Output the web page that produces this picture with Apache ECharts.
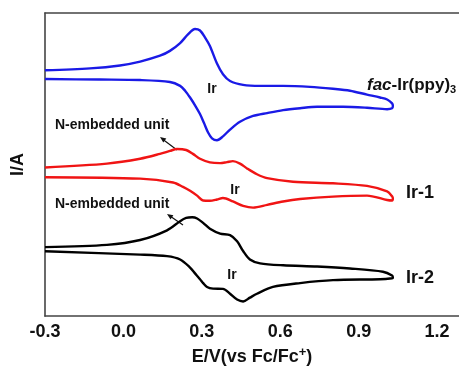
<!DOCTYPE html>
<html>
<head>
<meta charset="utf-8">
<script src="https://cdn.jsdelivr.net/npm/echarts@6/dist/echarts.min.js"></script>
<style>
html,body{margin:0;padding:0;background:#fff;}
#c{width:459px;height:371px;}
</style>
</head>
<body>
<div id="c"></div>
<script>
// x tick labels (V vs Fc/Fc+)
const xTicks = [-0.3, 0.0, 0.3, 0.6, 0.9, 1.2];

// fac-Ir(ppy)3 (blue): forward scan then reverse scan
const E_blue = [-0.300,-0.128,-0.013,0.064,0.140,0.178,0.217,0.247,0.274,0.293,0.312,0.331,0.358,0.381,0.408,0.458,0.523,0.611,0.714,0.802,0.867,0.932,0.982,1.009,1.028,
  1.031,
  1.028,1.009,0.932,0.840,0.741,0.676,0.611,0.550,0.496,0.446,0.408,0.381,0.358,0.339,0.324,0.308,0.293,0.274,0.255,0.236,0.217,0.178,0.064,-0.090,-0.300];
const I_blue = [25.3,25.5,25.8,26.2,26.8,27.3,28.1,29.0,29.55,29.4,28.7,27.8,26.0,24.9,24.2,23.8,23.7,23.7,23.6,23.4,23.2,22.8,22.5,22.3,21.9,
  21.65,
  21.4,21.3,21.45,21.55,21.55,21.4,21.2,20.9,20.6,20.0,19.2,18.5,18.1,18.3,18.9,19.9,20.8,21.7,22.5,23.2,23.7,24.1,24.3,24.35,24.4];

// Ir-1 (red)
const E_red = [-0.300,-0.063,0.064,0.140,0.178,0.205,0.240,0.266,0.293,0.331,0.370,0.396,0.419,0.446,0.473,0.511,0.550,0.649,0.802,0.932,1.009,1.028,
  1.031,
  1.028,1.009,0.932,0.802,0.676,0.611,0.550,0.496,0.458,0.419,0.381,0.358,0.331,0.305,0.282,0.255,0.228,0.190,0.064,-0.300];
const I_red = [15.3,15.7,16.2,16.7,17.0,17.2,17.1,16.7,16.2,15.83,15.75,15.85,15.95,15.7,15.2,14.6,14.2,13.83,13.67,13.4,12.83,12.33,
  12.1,
  11.9,11.95,12.4,12.3,12.05,11.8,11.45,11.17,11.35,11.8,12.15,12.0,11.87,11.9,12.4,12.9,13.3,13.75,14.15,14.3];

// Ir-2 (black)
const E_black = [-0.300,-0.063,0.064,0.167,0.217,0.240,0.263,0.282,0.305,0.331,0.370,0.408,0.435,0.458,0.484,0.523,0.611,0.741,0.867,0.993,1.028,
  1.031,
  1.028,0.982,0.802,0.676,0.572,0.511,0.484,0.458,0.435,0.408,0.381,0.343,0.320,0.305,0.293,0.274,0.255,0.217,0.167,0.064,-0.300];
const I_black = [7.1,7.33,7.83,8.83,9.77,10.1,10.17,10.05,9.6,9.0,8.5,8.33,7.7,6.7,5.83,5.43,5.23,5.1,4.9,4.57,4.17,
  3.95,
  3.9,3.8,3.7,3.4,3.0,2.3,1.9,1.5,1.7,2.3,2.8,2.83,3.0,3.4,3.8,4.4,5.0,5.83,6.17,6.33,6.67];

const zip = (a, b) => a.map((v, i) => [v, b[i]]);
const FF = '"Liberation Sans", Arial, sans-serif';
const chart = echarts.init(document.getElementById('c'));

const xMin = -0.3, xMax = 1.284;
function curve(name, e, i, color) {
  return {
    name, type: 'line', data: zip(e, i), smooth: 0.3, showSymbol: false,
    lineStyle: { color, width: 2.4 }, clip: false, animation: false
  };
}

chart.setOption({
  animation: false,
  grid: { left: 45, right: 0, top: 13, bottom: 47 },
  xAxis: [{
    type: 'value', min: xMin, max: xMax, interval: 0.3,
    axisLine: { show: true, onZero: false, lineStyle: { color: '#444', width: 1.6 } },
    axisTick: { show: false }, splitLine: { show: false },
    axisLabel: {
      showMaxLabel: false, margin: 7, color: '#111', fontFamily: FF, fontWeight: 'bold', fontSize: 18,
      formatter: v => (xTicks.some(t => Math.abs(t - v) < 1e-6) ? v.toFixed(1) : '')
    },
    name: '{a|E/V(vs Fc/Fc}{s|+}{a|)}', nameLocation: 'middle', nameGap: 28,
    nameTextStyle: {
      rich: {
        a: { fontFamily: FF, fontWeight: 'bold', fontSize: 18, color: '#111', lineHeight: 22 },
        s: { fontFamily: FF, fontWeight: 'bold', fontSize: 13, color: '#111', lineHeight: 8, verticalAlign: 'top' }
      }
    }
  }, {
    type: 'value', position: 'top', min: xMin, max: xMax,
    axisLine: { show: true, onZero: false, lineStyle: { color: '#444', width: 1.6 } },
    axisTick: { show: false }, axisLabel: { show: false }, splitLine: { show: false }
  }],
  yAxis: {
    type: 'value', min: 0, max: 31.2, position: 'left',
    axisLine: { show: true, onZero: false, lineStyle: { color: '#444', width: 1.6 } },
    axisTick: { show: false }, axisLabel: { show: false }, splitLine: { show: false },
    name: 'I/A', nameLocation: 'middle', nameGap: 18,
    nameTextStyle: { fontFamily: FF, fontWeight: 'bold', fontSize: 18, color: '#111' }
  },
  series: [
    curve('fac-Ir(ppy)3', E_blue, I_blue, '#1a1ae6'),
    curve('Ir-1', E_red, I_red, '#f01414'),
    curve('Ir-2', E_black, I_black, '#000000')
  ],
  graphic: [
    { type: 'text', x: 55, y: 125, style: { text: 'N-embedded unit', font: 'bold 14px ' + FF, fill: '#111', align: 'left', verticalAlign: 'middle' } },
    { type: 'text', x: 55, y: 204, style: { text: 'N-embedded unit', font: 'bold 14px ' + FF, fill: '#111', align: 'left', verticalAlign: 'middle' } },
    { type: 'text', x: 212, y: 89, style: { text: 'Ir', font: 'bold 14px ' + FF, fill: '#111', align: 'center', verticalAlign: 'middle' } },
    { type: 'text', x: 235, y: 190, style: { text: 'Ir', font: 'bold 14px ' + FF, fill: '#111', align: 'center', verticalAlign: 'middle' } },
    { type: 'text', x: 232, y: 275, style: { text: 'Ir', font: 'bold 14px ' + FF, fill: '#111', align: 'center', verticalAlign: 'middle' } },
    { type: 'text', x: 406, y: 193, style: { text: 'Ir-1', font: 'bold 18px ' + FF, fill: '#111', align: 'left', verticalAlign: 'middle' } },
    { type: 'text', x: 406, y: 278, style: { text: 'Ir-2', font: 'bold 18px ' + FF, fill: '#111', align: 'left', verticalAlign: 'middle' } },
    { type: 'text', x: 367, y: 85, style: {
        text: '{i|fac}{n|-Ir(ppy)}{s|3}', align: 'left', verticalAlign: 'middle',
        rich: {
          i: { fontFamily: FF, fontWeight: 'bold', fontStyle: 'italic', fontSize: 17, fill: '#111', lineHeight: 20 },
          n: { fontFamily: FF, fontWeight: 'bold', fontSize: 17, fill: '#111', lineHeight: 20 },
          s: { fontFamily: FF, fontWeight: 'bold', fontSize: 11, fill: '#111', lineHeight: 2, verticalAlign: 'bottom' }
        }
    } },
    { type: 'line', shape: { x1: 177, y1: 150, x2: 163, y2: 139.5 }, style: { stroke: '#111', lineWidth: 1.2 } },
    { type: 'polygon', shape: { points: [[160, 137], [166.3, 138.6], [163.3, 142.6]] }, style: { fill: '#111' } },
    { type: 'line', shape: { x1: 183, y1: 225, x2: 170, y2: 216 }, style: { stroke: '#111', lineWidth: 1.2 } },
    { type: 'polygon', shape: { points: [[167, 214], [173.4, 215.3], [170.5, 219.5]] }, style: { fill: '#111' } }
  ]
});
</script>
</body>
</html>
